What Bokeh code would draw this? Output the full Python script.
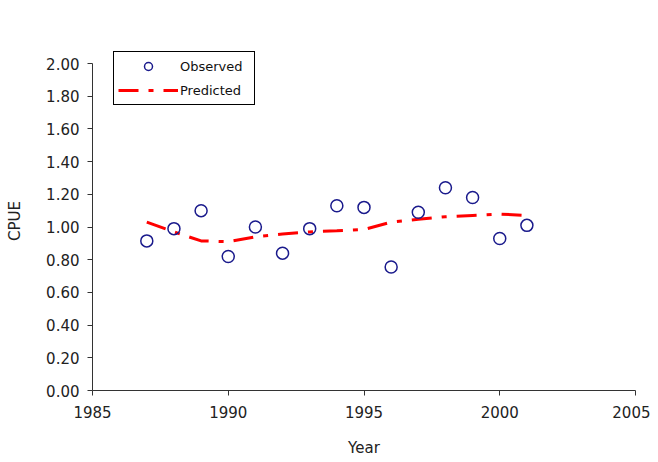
from bokeh.plotting import figure
from bokeh.models import Range1d, FixedTicker, Legend, LegendItem, ColumnDataSource
from bokeh.embed import file_html
from bokeh.resources import INLINE

years = [1987, 1988, 1989, 1990, 1991, 1992, 1993, 1994, 1995, 1996, 1997, 1998, 1999, 2000, 2001]
observed = [0.915, 0.99, 1.10, 0.82, 1.00, 0.84, 0.99, 1.13, 1.12, 0.755, 1.09, 1.24, 1.18, 0.93, 1.01]
predicted = [1.03, 0.97, 0.915, 0.91, 0.94, 0.957, 0.97, 0.977, 0.985, 1.03, 1.047, 1.063, 1.071, 1.079, 1.071]
x_ticks = [1985, 1990, 1995, 2000, 2005]
y_ticks = [0.0, 0.2, 0.4, 0.6, 0.8, 1.0, 1.2, 1.4, 1.6, 1.8, 2.0]

FONT = "DejaVu Sans"

src = ColumnDataSource(dict(year=years, obs=observed, pred=predicted))

# frame extends 12px above the 2.00 tick so the legend can sit there; axis line bounded to [0, 2]
p = figure(width=650, height=460, output_backend="svg", toolbar_location=None,
           x_range=Range1d(1985, 2005), y_range=Range1d(0, 2.0 + 12 / 163.5),
           min_border_left=92, min_border_right=15, min_border_top=51, min_border_bottom=70)
p.outline_line_color = None
p.grid.visible = False
p.background_fill_color = "white"
p.border_fill_color = "white"

line_r = p.line("year", "pred", source=src, line_color="#ff0000", line_width=3,
                line_dash="20 10 5 10")
circ_r = p.scatter("year", "obs", source=src, marker="circle", size=12, fill_color=None,
                   line_color="#1a1a8c", line_width=1.5)

for ax in (p.xaxis[0], p.yaxis[0]):
    ax.axis_line_color = "#333333"
    ax.major_tick_line_color = "#333333"
    ax.major_tick_out = 5
    ax.major_tick_in = 0
    ax.minor_tick_line_color = None
    ax.major_label_text_font = FONT
    ax.major_label_text_font_size = "15px"
    ax.major_label_text_color = "#222222"
    ax.axis_label_text_font = FONT
    ax.axis_label_text_font_size = "15px"
    ax.axis_label_text_font_style = "normal"
    ax.axis_label_text_color = "#222222"

p.xaxis.ticker = FixedTicker(ticks=x_ticks)
p.yaxis.ticker = FixedTicker(ticks=y_ticks)
p.yaxis.bounds = (0, 2.0)
p.xaxis.major_label_overrides = {v: str(v) for v in x_ticks}
p.yaxis.major_label_overrides = {v: f"{v:.2f}" for v in y_ticks}
p.xaxis.axis_label = "Year"
p.yaxis.axis_label = "CPUE"
p.xaxis.major_label_standoff = 10
p.xaxis.axis_label_standoff = 18
p.yaxis.major_label_standoff = 8
p.yaxis.axis_label_standoff = 19

legend = Legend(items=[LegendItem(label="Observed", renderers=[circ_r]),
                       LegendItem(label="Predicted", renderers=[line_r])],
                location=(21, 285))
legend.border_line_color = "black"
legend.border_line_alpha = 1.0
legend.border_line_width = 1
legend.label_text_font = FONT
legend.label_text_font_size = "13px"
legend.label_text_color = "#111111"
legend.glyph_width = 60
legend.glyph_height = 20
legend.label_width = 70
legend.spacing = 4
legend.padding = 4
legend.margin = 0
legend.label_standoff = 2
legend.background_fill_alpha = 1
p.add_layout(legend, "center")

open("out.html", "w").write(file_html(p, INLINE))
